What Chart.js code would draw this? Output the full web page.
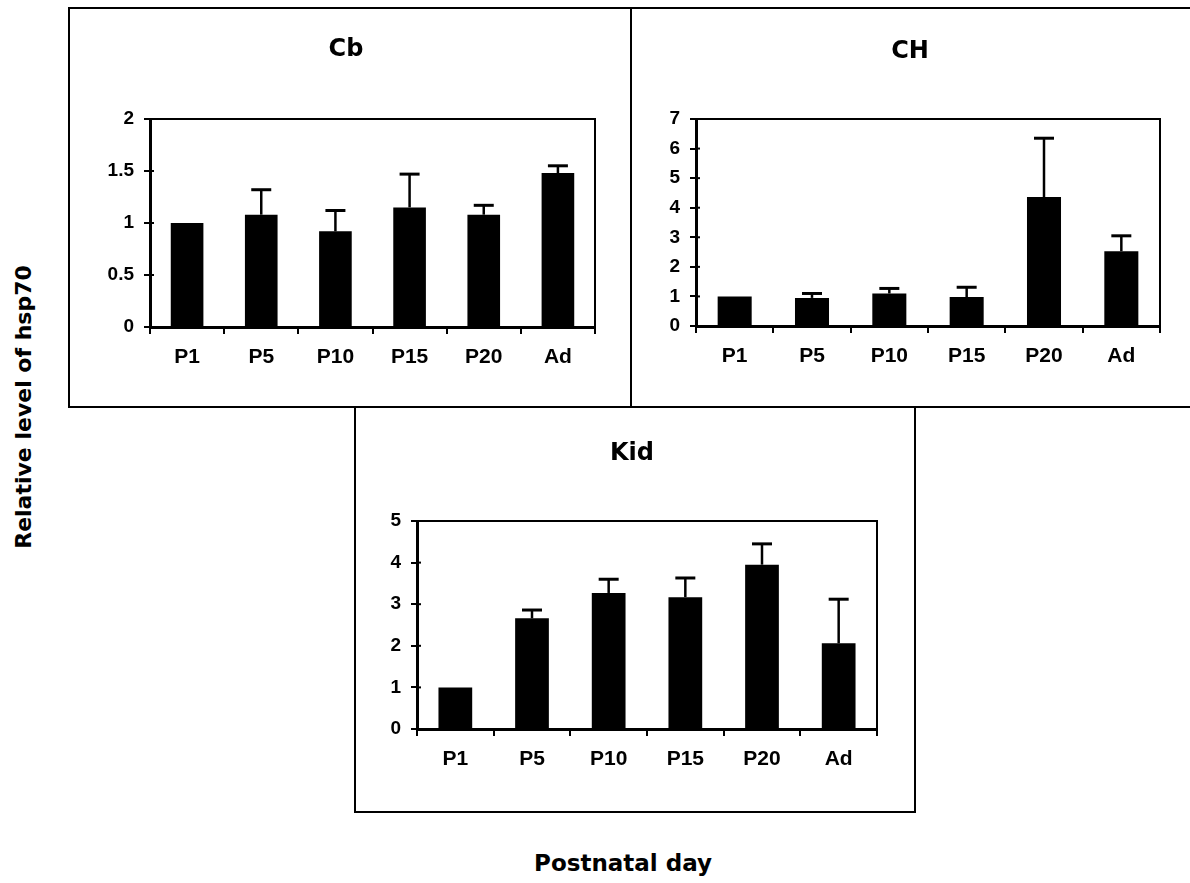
<!DOCTYPE html>
<html>
<head>
<meta charset="utf-8">
<script src="https://cdn.jsdelivr.net/npm/chart.js@4.4.1/dist/chart.umd.min.js"></script>
<style>
    body { margin: 0; width: 1190px; height: 883px; background: #fff; overflow: hidden; position: relative; }
    .panel { position: absolute; border: 2px solid #000; box-sizing: border-box; background: #fff; }
    .panel canvas { display: block; }
    .title { position: absolute; transform: translate(-50%, -50%); font: bold 24px "DejaVu Sans"; color: #000; white-space: nowrap; }
    #yTitle { position: absolute; left: 23px; top: 407px; transform: translate(-50%, -50%) rotate(-90deg); font: bold 22px "DejaVu Sans"; white-space: nowrap; }
    #xTitle { position: absolute; left: 623px; top: 863px; transform: translate(-50%, -50%); font: bold 23px "DejaVu Sans"; white-space: nowrap; }
</style>
</head>
<body>
<div class="panel" style="left:68px; top:7px; width:564px; height:401px;"><canvas id="cbChart" width="560" height="397"></canvas></div>
<div class="panel" style="left:630px; top:7px; width:570px; height:401px;"><canvas id="chChart" width="566" height="397"></canvas></div>
<div class="panel" style="left:354px; top:406px; width:562px; height:407px;"><canvas id="kidChart" width="558" height="403"></canvas></div>
<div class="title" style="left:346px; top:48px;">Cb</div>
<div class="title" style="left:910px; top:50px;">CH</div>
<div class="title" style="left:632px; top:452px;">Kid</div>
<div id="yTitle">Relative level of hsp70</div>
<div id="xTitle">Postnatal day</div>
<script>
const categories = ['P1', 'P5', 'P10', 'P15', 'P20', 'Ad'];

// Cb
const cbValues = [1.0, 1.08, 0.92, 1.15, 1.08, 1.48];
const cbErrors = [0, 0.24, 0.20, 0.32, 0.09, 0.07];
const cbTicks = [0, 0.5, 1, 1.5, 2];

// CH
const chValues = [1.0, 0.95, 1.1, 0.98, 4.36, 2.53];
const chErrors = [0, 0.15, 0.17, 0.33, 1.99, 0.52];
const chTicks = [0, 1, 2, 3, 4, 5, 6, 7];

// Kid
const kidValues = [1.0, 2.66, 3.27, 3.17, 3.95, 2.06];
const kidErrors = [0, 0.20, 0.33, 0.46, 0.50, 1.06];
const kidTicks = [0, 1, 2, 3, 4, 5];

const tickFont = '"Liberation Sans", Arial, sans-serif';

// upper error bar only, like the original figure
const errorBars = {
    id: 'errorBars',
    afterDatasetsDraw(chart) {
        const ctx = chart.ctx;
        const yScale = chart.scales.y;
        const dataset = chart.data.datasets[0];
        const meta = chart.getDatasetMeta(0);
        ctx.save();
        ctx.strokeStyle = '#000';
        meta.data.forEach((bar, i) => {
            let err = dataset.errors[i];
            if (!err) return;
            let top = yScale.getPixelForValue(dataset.data[i] + err);
            ctx.lineWidth = 2.5;
            ctx.beginPath();
            ctx.moveTo(bar.x, bar.y);
            ctx.lineTo(bar.x, top);
            ctx.stroke();
            ctx.lineWidth = 3;
            ctx.beginPath();
            ctx.moveTo(bar.x - 10, top);
            ctx.lineTo(bar.x + 10, top);
            ctx.stroke();
        });
        ctx.restore();
    }
};

// box round the plot area, and the small tick stubs that cross the y axis
const plotFrame = {
    id: 'plotFrame',
    afterDraw(chart) {
        const a = chart.chartArea;
        const ctx = chart.ctx;
        ctx.save();
        ctx.strokeStyle = '#000';
        ctx.lineWidth = 2;
        ctx.strokeRect(a.left, a.top, a.right - a.left, a.bottom - a.top);
        chart.scales.y.ticks.forEach(t => {
            let y = chart.scales.y.getPixelForValue(t.value);
            ctx.beginPath();
            ctx.moveTo(a.left, y);
            ctx.lineTo(a.left + 4, y);
            ctx.stroke();
        });
        ctx.restore();
    }
};

function makeChart(id, values, errors, ticks, pad) {
    const ctx = document.getElementById(id).getContext('2d');
    return new Chart(ctx, {
        type: 'bar',
        data: {
            labels: categories,
            datasets: [{
                data: values,
                errors: errors,
                backgroundColor: '#000',
                barPercentage: 0.44,
                categoryPercentage: 1
            }]
        },
        options: {
            responsive: false,
            animation: false,
            devicePixelRatio: 1,
            layout: { padding: pad },
            plugins: { legend: { display: false }, tooltip: { enabled: false } },
            scales: {
                x: {
                    grid: { drawOnChartArea: false, color: '#000', lineWidth: 2, tickLength: 7 },
                    border: { color: '#000', width: 3 },
                    ticks: {
                        color: '#000', padding: 11, maxRotation: 0, autoSkip: false,
                        font: { family: tickFont, size: 21, weight: 'bold' }
                    },
                    afterFit: scale => { scale.height = 50; }
                },
                y: {
                    min: ticks[0],
                    max: ticks[ticks.length - 1],
                    grid: { drawOnChartArea: false, color: '#000', lineWidth: 2, tickLength: 6 },
                    border: { color: '#000', width: 3 },
                    ticks: {
                        stepSize: ticks[1] - ticks[0], color: '#000', padding: 10,
                        font: { family: tickFont, size: 19, weight: 'bold' },
                        callback: v => String(v)
                    },
                    afterFit: scale => { scale.width = 60; }
                }
            }
        },
        plugins: [errorBars, plotFrame]
    });
}

makeChart('cbChart', cbValues, cbErrors, cbTicks, { left: 20, right: 35, top: 110, bottom: 29 });
makeChart('chChart', chValues, chErrors, chTicks, { left: 4, right: 38, top: 110, bottom: 30 });
makeChart('kidChart', kidValues, kidErrors, kidTicks, { left: 1, right: 37, top: 113, bottom: 32 });
</script>
</body>
</html>
